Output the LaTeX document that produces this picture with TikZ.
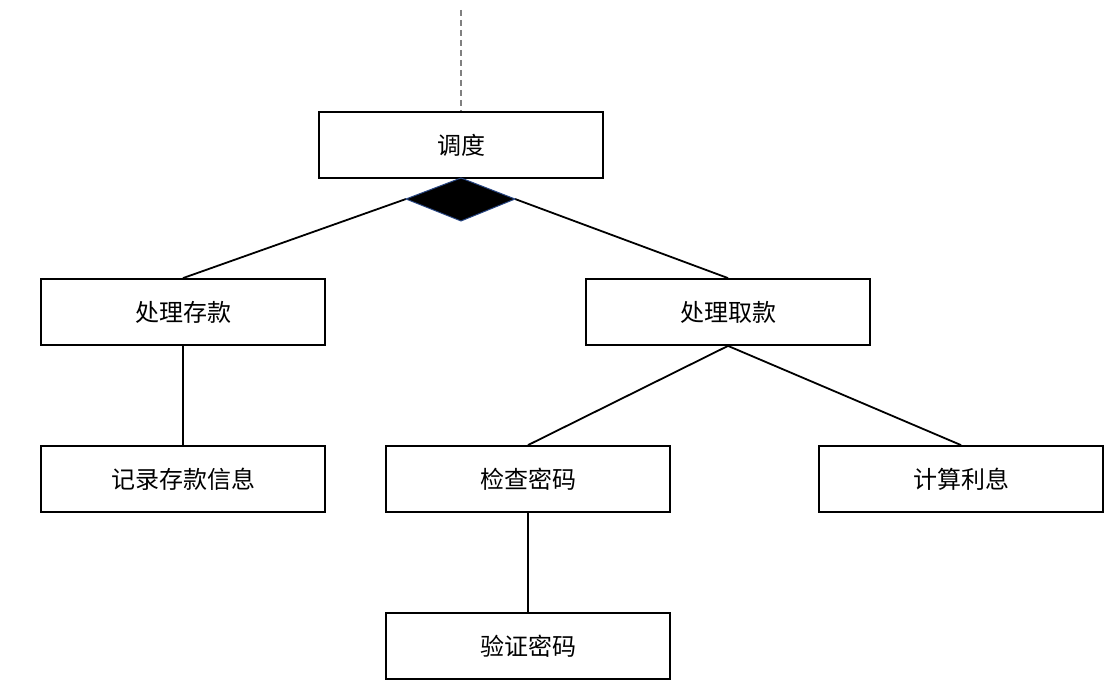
\documentclass[tikz,border=0pt]{standalone}
\usepackage{fontspec}
\newfontfamily\cjk{Noto Sans CJK SC}
\begin{document}
\begin{tikzpicture}[x=1pt,y=-1pt,
  box/.style={draw=black,line width=1.8pt,minimum width=284pt,minimum height=66pt,inner sep=0pt,font=\cjk\fontsize{24}{28}\selectfont},
  link/.style={draw=black,line width=1.8pt}]
\useasboundingbox (0,0) rectangle (1117,700);
\node[box] (dd) at (461,145) {调度};
\node[box] (ck) at (183,312) {处理存款};
\node[box] (qk) at (728,312) {处理取款};
\node[box] (jl) at (183,479) {记录存款信息};
\node[box] (jc) at (528,479) {检查密码};
\node[box] (js) at (961,479) {计算利息};
\node[box] (yz) at (528,646) {验证密码};
\coordinate (top) at (461,10);
\coordinate (dt) at (461,178);
\coordinate (dl) at (406,199);
\coordinate (dr) at (515,199);
\coordinate (db) at (461,221);
\draw[draw=gray,line width=2pt,dash pattern=on 6pt off 4pt] (top) -- (dd.north);
\draw[link] (ck.north) -- (dl);
\draw[link] (dr) -- (qk.north);
\filldraw[fill=black,draw={rgb,255:red,40;green,70;blue,130},line width=1pt] (dt) -- (dr) -- (db) -- (dl) -- cycle;
\draw[link] (ck.south) -- (jl.north);
\draw[link] (qk.south) -- (jc.north);
\draw[link] (qk.south) -- (js.north);
\draw[link] (jc.south) -- (yz.north);
\end{tikzpicture}
\end{document}
